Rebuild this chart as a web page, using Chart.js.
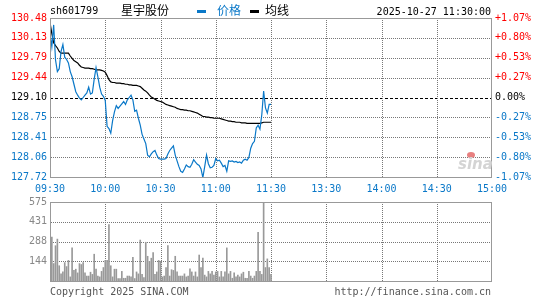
<!DOCTYPE html>
<html>
<head>
<meta charset="utf-8">
<script src="https://cdn.jsdelivr.net/npm/chart.js@4.4.1/dist/chart.umd.min.js"></script>
<style>
  body { margin: 0; background: #fff; }
  #wrap { position: relative; width: 545px; height: 300px; background: #fff; overflow: hidden; }
  canvas { position: absolute; left: 0; }
  .t { position: absolute; font: 10px "DejaVu Sans Mono", monospace; line-height: 12px; white-space: nowrap; }
  .cn { position: absolute; font: 12px "Noto Sans CJK SC", sans-serif; line-height: 14px; white-space: nowrap; }
</style>
</head>
<body>
<div id="wrap">
  <canvas id="priceChart" width="545" height="200" style="top:0"></canvas>
  <canvas id="volChart" width="545" height="100" style="top:190px"></canvas>

  <div class="t" style="left:50px;top:5px;color:#000">sh601799</div>
  <div class="cn" style="left:121px;top:3px;color:#000">星宇股份</div>
  <div style="position:absolute;left:197px;top:10px;width:9px;height:3px;background:#0a78c8"></div>
  <div class="cn" style="left:217px;top:3px;color:#0a78c8">价格</div>
  <div style="position:absolute;left:250px;top:10px;width:9px;height:3px;background:#000"></div>
  <div class="cn" style="left:265px;top:3px;color:#000">均线</div>
  <div class="t" style="right:54px;top:6px;color:#000">2025-10-27 11:30:00</div>

  <div style="position:absolute;left:458px;top:151px;width:34px;height:22px">
    <div style="position:absolute;left:9px;top:1px;width:8px;height:6px;border-radius:50%;background:#e88080"></div>
    <div style="position:absolute;left:0;top:5px;font:italic bold 15px 'DejaVu Sans',sans-serif;color:#d4d4d4;line-height:16px">sina</div>
  </div>

  <div class="t" style="left:50px;top:286px;color:#555">Copyright 2025 SINA.COM</div>
  <div class="t" style="right:54px;top:286px;color:#555">http://finance.sina.com.cn</div>
</div>

<script>
// axis labels
const timeLabels = ["09:30", "10:00", "10:30", "11:00", "11:30", "13:30", "14:00", "14:30", "15:00"];
const priceLabels = ["130.48", "130.13", "129.79", "129.44", "129.10", "128.75", "128.41", "128.06", "127.72"];
const pctLabels = ["+1.07%", "+0.80%", "+0.53%", "+0.27%", "0.00%", "-0.27%", "-0.53%", "-0.80%", "-1.07%"];
const volLabels = ["575", "431", "288", "144", ""];

const priceMax = 130.48;
const priceMin = 127.72;
const prevClose = 129.10;
const volMax = 575;
const totalMinutes = 240;

// one value per minute, 09:30 .. 11:30
const prices = [
  130.22, 129.98, 130.36, 129.75, 129.55, 129.60, 129.90, 130.02, 129.80, 129.76, 129.70,
  129.55, 129.46, 129.33, 129.20, 129.14, 129.09, 129.06, 129.10, 129.14, 129.18,
  129.28, 129.16, 129.18, 129.42, 129.62, 129.46, 129.28, 129.16, 129.12, 129.05,
  128.60, 128.56, 128.48, 128.70, 128.85, 128.96, 128.91, 128.95, 128.99, 129.03,
  128.98, 129.06, 129.10, 129.14, 129.06, 128.86, 128.88, 128.74, 128.62, 128.46,
  128.38, 128.30, 128.10, 128.07, 128.12, 128.16, 128.18, 128.10, 128.04, 128.03,
  128.03, 128.03, 128.04, 128.12, 128.18, 128.22, 128.26, 128.10, 128.00, 127.90,
  127.82, 127.80, 127.86, 127.93, 127.90, 127.89, 127.94, 128.02, 127.98, 127.94,
  127.92, 127.86, 127.71, 127.90, 128.10, 127.95, 127.88, 127.89, 127.92, 128.04,
  128.00, 128.01, 127.96, 127.90, 127.92, 127.82, 128.00, 127.99, 128.00, 127.98,
  127.99, 127.97, 127.98, 127.96, 128.01, 128.03, 128.01, 128.06, 128.22, 128.30,
  128.34, 128.57, 128.62, 128.55, 128.80, 129.21, 128.92, 128.83, 128.98, 128.98
];

const avgPrices = [
  130.40, 130.21, 130.05, 130.00, 129.96, 129.90, 129.87, 129.87, 129.87, 129.87, 129.87,
  129.82, 129.78, 129.74, 129.72, 129.70, 129.66, 129.63, 129.62, 129.61, 129.61,
  129.61, 129.60, 129.60, 129.59, 129.58, 129.58, 129.58, 129.57, 129.56, 129.54,
  129.48, 129.41, 129.37, 129.36, 129.36, 129.35, 129.35, 129.35, 129.34, 129.34,
  129.33, 129.33, 129.32, 129.32, 129.31, 129.31, 129.31, 129.30, 129.29, 129.26,
  129.23, 129.21, 129.18, 129.14, 129.11, 129.09, 129.07, 129.05, 129.04, 129.03,
  129.02, 129.00, 128.98, 128.97, 128.96, 128.95, 128.94, 128.93, 128.91, 128.90,
  128.89, 128.89, 128.88, 128.88, 128.87, 128.87, 128.86, 128.85, 128.84, 128.83,
  128.81, 128.79, 128.77, 128.77, 128.76, 128.76, 128.75, 128.75, 128.74, 128.74,
  128.74, 128.74, 128.73, 128.72, 128.71, 128.70, 128.69, 128.69, 128.68, 128.68,
  128.67, 128.67, 128.67, 128.66, 128.66, 128.66, 128.65, 128.65, 128.65, 128.65,
  128.65, 128.65, 128.65, 128.65, 128.66, 128.67, 128.67, 128.67, 128.67, 128.67
];

const volumes = [
  52, 320, 127, 257, 305, 111, 52, 66, 134, 105, 150, 30, 241, 77, 86, 59, 127, 120, 134, 59,
  36, 36, 64, 48, 195, 86, 36, 30, 70, 98, 150, 150, 411, 111, 30, 86, 86, 18, 18, 70,
  20, 20, 36, 36, 30, 173, 18, 66, 52, 298, 48, 25, 282, 180, 143, 166, 207, 48, 66, 150,
  143, 30, 36, 98, 257, 36, 82, 77, 180, 66, 36, 36, 36, 52, 30, 36, 89, 66, 36, 66,
  30, 189, 98, 166, 43, 30, 70, 52, 70, 43, 66, 70, 30, 70, 30, 66, 241, 52, 70, 20,
  59, 30, 43, 30, 52, 64, 20, 20, 70, 36, 20, 36, 70, 355, 70, 48, 570, 98, 161, 98, 48
];

const blue = "#0a78c8";
const red = "#ff0000";
const monoFont = { family: "DejaVu Sans Mono", size: 10 };

// colour of a price/percent label by its row (top to bottom)
function rowColor(row) {
  if (row < 4) return red;
  if (row == 4) return "#000";
  return blue;
}

// tick values, bottom to top
const timeValues = timeLabels.map((t, i) => i * 30);
const priceValues = priceLabels.map((l, i) => priceMin + (i * (priceMax - priceMin)) / 8);
const volValues = volLabels.map((l, i) => (i * volMax) / 4);

function setTicks(values) {
  return (scale) => {
    scale.ticks = values.map((v) => ({ value: v }));
  };
}

function strokeLine(ctx, x1, y1, x2, y2) {
  ctx.beginPath();
  ctx.moveTo(x1, y1);
  ctx.lineTo(x2, y2);
  ctx.stroke();
}

// dotted grid inside the plot area, placed through the chart's scales
const gridPlugin = {
  id: "dotGrid",
  afterDraw(chart) {
    const a = chart.chartArea;
    const ctx = chart.ctx;
    const xs = chart.scales.x;
    const ys = chart.scales.y;
    const isPrice = chart.canvas.id == "priceChart";
    const yValues = isPrice ? priceValues : volValues;
    ctx.save();
    ctx.globalCompositeOperation = "destination-over";
    ctx.lineWidth = 1;
    ctx.strokeStyle = "#777777";
    ctx.setLineDash([1, 1]);
    for (let i = 1; i < timeValues.length - 1; i++) {
      const x = Math.round(xs.getPixelForValue(timeValues[i])) + 0.5;
      strokeLine(ctx, x, a.top, x, a.bottom);
    }
    for (let i = 1; i < yValues.length - 1; i++) {
      if (isPrice && i == 4) continue;
      const y = Math.round(ys.getPixelForValue(yValues[i])) + 0.5;
      strokeLine(ctx, a.left + 1, y, a.right - 1, y);
    }
    if (isPrice) {
      // dashed line at previous close
      const y = Math.round(ys.getPixelForValue(prevClose)) + 0.5;
      ctx.strokeStyle = "#000";
      ctx.setLineDash([3, 2]);
      strokeLine(ctx, a.left, y, a.right, y);
    }
    ctx.restore();
    // frame round the plot area
    ctx.save();
    ctx.strokeStyle = "#999";
    ctx.lineWidth = 1;
    ctx.strokeRect(Math.round(a.left) + 0.5, Math.round(a.top) + 0.5, Math.round(a.right - a.left) - 1, Math.round(a.bottom - a.top));
    ctx.restore();
  },
};

const priceCtx = document.getElementById("priceChart").getContext("2d");
new Chart(priceCtx, {
  type: "line",
  data: {
    datasets: [
      {
        label: "价格",
        data: prices.map((p, i) => ({ x: i, y: p })),
        borderColor: blue,
        borderWidth: 1.2,
        pointRadius: 0,
        tension: 0,
        fill: false,
      },
      {
        label: "均线",
        data: avgPrices.map((p, i) => ({ x: i, y: p })),
        borderColor: "#000",
        borderWidth: 1.2,
        pointRadius: 0,
        tension: 0,
        fill: false,
      },
    ],
  },
  options: {
    responsive: false,
    animation: false,
    events: [],
    layout: { padding: { top: 18, left: 0, right: 0, bottom: 0 } },
    plugins: { legend: { display: false }, tooltip: { enabled: false } },
    scales: {
      x: {
        type: "linear",
        min: 0,
        max: totalMinutes,
        afterBuildTicks: setTicks(timeValues),
        afterFit: (s) => { s.height = 23; },
        ticks: {
          callback: (v, i) => timeLabels[i],
          color: blue,
          font: monoFont,
          maxRotation: 0,
          autoSkip: false,
          padding: 6,
        },
        grid: { display: false, drawTicks: false },
        border: { display: false },
      },
      y: {
        position: "left",
        min: priceMin,
        max: priceMax,
        afterBuildTicks: setTicks(priceValues),
        afterFit: (s) => { s.width = 50; },
        ticks: {
          callback: (v, i) => priceLabels[8 - i],
          color: (c) => rowColor(8 - c.index),
          font: monoFont,
          padding: 3,
          autoSkip: false,
        },
        grid: { display: false, drawTicks: false },
        border: { display: false },
      },
      y2: {
        position: "right",
        min: priceMin,
        max: priceMax,
        afterBuildTicks: setTicks(priceValues),
        afterFit: (s) => { s.width = 53; },
        ticks: {
          callback: (v, i) => pctLabels[8 - i],
          color: (c) => rowColor(8 - c.index),
          font: monoFont,
          padding: 3,
          autoSkip: false,
        },
        grid: { display: false, drawTicks: false },
        border: { display: false },
      },
    },
  },
  plugins: [gridPlugin],
});

const volCtx = document.getElementById("volChart").getContext("2d");
new Chart(volCtx, {
  type: "bar",
  data: {
    datasets: [
      {
        label: "成交量",
        data: volumes.map((v, i) => ({ x: i, y: v })),
        backgroundColor: "#999",
        barThickness: 1,
      },
    ],
  },
  options: {
    responsive: false,
    animation: false,
    events: [],
    layout: { padding: { top: 12, left: 0, right: 53, bottom: 4 } },
    plugins: { legend: { display: false }, tooltip: { enabled: false } },
    scales: {
      x: {
        type: "linear",
        min: 0,
        max: totalMinutes,
        offset: false,
        afterBuildTicks: setTicks(timeValues),
        afterFit: (s) => { s.height = 0; },
        ticks: { display: false },
        grid: { display: false, drawTicks: false, offset: false },
        border: { display: false },
      },
      y: {
        position: "left",
        min: 0,
        max: volMax,
        afterBuildTicks: setTicks(volValues),
        afterFit: (s) => { s.width = 50; },
        ticks: {
          callback: (v, i) => volLabels[4 - i],
          color: "#888",
          font: monoFont,
          padding: 3,
          autoSkip: false,
        },
        grid: { display: false, drawTicks: false },
        border: { display: false },
      },
    },
  },
  plugins: [gridPlugin],
});
</script>
</body>
</html>
